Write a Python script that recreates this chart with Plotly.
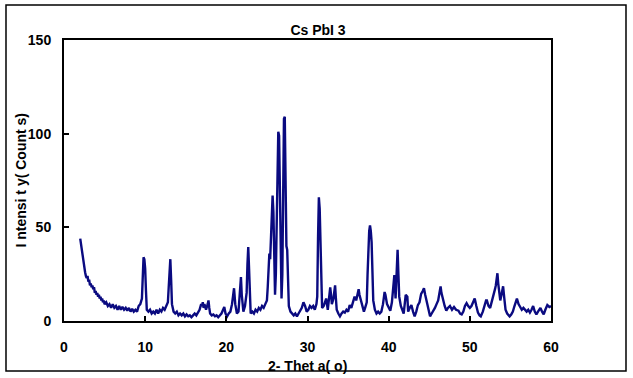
import plotly.graph_objects as go

two_theta = [
    2.0, 2.1, 2.2, 2.3, 2.4, 2.5, 2.6, 2.7, 2.8, 2.9, 3.0, 3.1, 3.2, 3.3, 3.4, 3.5, 3.6, 3.7, 3.8, 3.9,
    4.0, 4.1, 4.2, 4.3, 4.4, 4.5, 4.6, 4.7, 4.8, 4.9, 5.0, 5.2, 5.4, 5.6, 5.8, 6.0, 6.2, 6.4, 6.6, 6.8,
    7.0, 7.2, 7.4, 7.6, 7.8, 8.0, 8.2, 8.4, 8.6, 8.8, 9.0, 9.2, 9.4, 9.6, 9.7, 9.8, 9.9, 10.0, 10.1, 10.2,
    10.4, 10.6, 10.8, 11.0, 11.2, 11.4, 11.6, 11.8, 12.0, 12.2, 12.4, 12.6, 12.8, 12.9, 13.0, 13.1, 13.2, 13.3, 13.5, 13.7,
    13.9, 14.1, 14.3, 14.5, 14.7, 14.9, 15.1, 15.3, 15.5, 15.7, 15.9, 16.1, 16.3, 16.5, 16.7, 16.9, 17.0, 17.1, 17.2, 17.3,
    17.5, 17.7, 17.8, 17.9, 18.0, 18.2, 18.4, 18.6, 18.8, 19.0, 19.2, 19.4, 19.6, 19.75, 19.9, 20.1, 20.3, 20.5, 20.7, 20.85,
    20.95, 21.1, 21.3, 21.5, 21.6, 21.7, 21.8, 21.9, 22.0, 22.1, 22.3, 22.5, 22.6, 22.7, 22.8, 22.9, 23.0, 23.2, 23.4, 23.6,
    23.8, 24.0, 24.2, 24.4, 24.6, 24.8, 25.0, 25.1, 25.2, 25.3, 25.4, 25.5, 25.6, 25.7, 25.8, 25.9, 26.0, 26.1, 26.2, 26.3,
    26.4, 26.5, 26.6, 26.7, 26.8, 26.9, 27.0, 27.1, 27.2, 27.3, 27.4, 27.5, 27.6, 27.7, 27.9, 28.1, 28.3, 28.5, 28.7, 28.9,
    29.1, 29.3, 29.5, 29.7, 29.9, 30.1, 30.3, 30.5, 30.7, 30.9, 31.1, 31.2, 31.3, 31.4, 31.5, 31.6, 31.7, 31.8, 32.0, 32.2,
    32.3, 32.5, 32.7, 32.8, 32.9, 33.0, 33.2, 33.3, 33.4, 33.5, 33.6, 33.8, 34.0, 34.2, 34.4, 34.6, 34.8, 35.0, 35.2, 35.4,
    35.6, 35.8, 36.0, 36.2, 36.3, 36.4, 36.6, 36.8, 36.95, 37.1, 37.3, 37.4, 37.5, 37.6, 37.7, 37.8, 37.9, 38.0, 38.1, 38.3,
    38.5, 38.7, 38.9, 39.1, 39.3, 39.5, 39.6, 39.8, 40.0, 40.2, 40.4, 40.6, 40.7, 40.85, 41.0, 41.1, 41.2, 41.3, 41.5, 41.7,
    41.85, 42.0, 42.1, 42.3, 42.4, 42.6, 42.8, 43.0, 43.2, 43.4, 43.6, 43.8, 44.0, 44.2, 44.35, 44.5, 44.6, 44.8, 45.0, 45.1,
    45.3, 45.5, 45.7, 45.9, 46.1, 46.3, 46.4, 46.5, 46.7, 46.9, 47.1, 47.3, 47.55, 47.8, 48.05, 48.3, 48.6, 48.8, 49.0, 49.2,
    49.4, 49.6, 49.8, 50.0, 50.2, 50.4, 50.6, 50.8, 51.0, 51.2, 51.35, 51.6, 51.8, 52.0, 52.1, 52.3, 52.5, 52.7, 52.9, 53.1,
    53.2, 53.3, 53.4, 53.5, 53.6, 53.75, 53.9, 54.1, 54.25, 54.4, 54.6, 54.9, 55.1, 55.3, 55.5, 55.8, 56.0, 56.2, 56.4, 56.6,
    56.8, 57.0, 57.2, 57.4, 57.6, 57.8, 58.0, 58.2, 58.4, 58.7, 58.9, 59.1, 59.3, 59.55, 59.8, 60.0,
]

intensity = [
    44, 41, 38, 35, 30, 27, 26, 24, 23, 24, 21, 22, 19, 20, 18, 19, 17, 18, 15, 16,
    14, 15, 13, 14, 12, 13, 11, 12, 10, 11, 9, 10, 8, 9, 7, 9, 7, 8, 6, 8,
    6, 7.5, 6, 7, 5.5, 7, 5, 6.5, 5, 6, 5, 8, 9, 12, 30, 34, 33, 28, 16, 6,
    5, 6, 4, 5, 4, 6, 4, 6, 5, 7, 6, 8, 10, 18, 30, 33, 22, 9, 5, 4,
    5, 3, 4, 3, 4, 2.5, 3.5, 2.5, 3, 2, 3, 4, 3, 5, 6, 9, 8, 10, 7, 9,
    6, 9, 11, 7, 4, 3, 3.5, 2.5, 3, 2, 3, 4, 6, 7.5, 4, 2.5, 4, 5, 9, 15,
    17.5, 9, 4, 5, 10, 18, 23.5, 14, 7, 5, 8, 15, 30, 39.5, 28, 10, 4, 5, 4, 6,
    5, 7, 6, 8, 7, 9, 11, 18, 27, 36, 33, 45, 60, 67, 58, 30, 14, 25, 60, 95,
    101, 99, 70, 35, 12, 25, 75, 108, 109, 60, 40, 38, 20, 8, 5, 4, 3, 4, 2.5, 4,
    6, 7, 10, 8, 5, 6, 8, 7, 8, 6, 9, 13, 45, 66, 60, 39, 12, 7, 8, 11,
    12, 6, 14, 18, 14, 9, 12, 18, 19, 12, 6, 4, 2.5, 4, 5, 4.5, 6, 5, 8.5, 7,
    10, 13, 11, 15, 17, 14, 11, 7, 5, 7, 10, 25, 40, 48, 51, 48, 42, 25, 11, 6,
    4, 5, 4, 5, 9, 15.5, 14, 9, 7, 5.5, 10, 22, 24.5, 12, 30, 38, 25, 13, 8, 5,
    4, 10, 14, 13, 5, 7, 8.5, 5, 2.5, 5, 8.5, 10, 14.5, 16, 17.5, 14, 12, 7, 3, 2.5,
    4, 6, 7, 9, 11, 16, 18.5, 15, 11, 8, 5.5, 7, 8, 6, 7.5, 6, 5.5, 4, 3.5, 5,
    8, 9.5, 8, 7, 8, 10, 12, 8, 4.5, 3, 2.5, 5, 8, 11, 11, 8, 7, 10, 13, 17,
    19, 23, 25.5, 20, 16, 11, 14, 18.5, 12, 6, 4, 2.5, 3.5, 5, 8, 12, 9, 7, 6, 7,
    6, 5, 6, 4.5, 6, 8, 5, 3.5, 5, 7, 5, 3.5, 6, 8.5, 7.5, 8,
]

x_ticks = [0, 10, 20, 30, 40, 50, 60]
y_ticks = [0, 50, 100, 150]

title_text = "Cs PbI 3"
x_title = "2- Thet a( o)"
y_title = "I ntensi t y( Count s)"

FONT = "Liberation Sans, Arial, sans-serif"
TXT = dict(family=FONT, size=14, color="black", weight="bold")

fig = go.Figure()
fig.add_trace(go.Scatter(
    x=two_theta, y=intensity, mode="lines",
    line=dict(color="#0a0a80", width=2.4),
    showlegend=False, hoverinfo="x+y",
))

axis_common = dict(
    showline=True, linecolor="black", linewidth=2, mirror=True,
    ticks="inside", ticklen=5, tickwidth=1.5, tickcolor="black",
    showgrid=False, zeroline=False, automargin=False,
    tickfont=TXT,
)

fig.update_xaxes(
    range=[0, 60], tickmode="array", tickvals=x_ticks,
    ticktext=[str(v) for v in x_ticks], ticklabelstandoff=12,
    **axis_common,
)
fig.update_yaxes(
    range=[0, 150], tickmode="array", tickvals=y_ticks,
    ticktext=[str(v) for v in y_ticks], ticklabelstandoff=8,
    **axis_common,
)

fig.update_layout(
    width=633, height=378,
    margin=dict(l=64, r=82, t=40, b=57),
    paper_bgcolor="white", plot_bgcolor="white",
    title=dict(text=title_text, x=0.5024, xref="container", y=0.9206, yref="container",
               xanchor="center", yanchor="middle", font=TXT),
    annotations=[
        dict(text=x_title, xref="paper", yref="paper", x=0.5, y=-0.160,
             xanchor="center", yanchor="middle", showarrow=False, font=TXT),
        dict(text=y_title, xref="paper", yref="paper", x=-0.0903, y=0.5,
             xanchor="center", yanchor="middle", textangle=-90, showarrow=False, font=TXT),
    ],
    shapes=[dict(type="rect", xref="paper", yref="paper",
                 x0=-0.1191, x1=1.1540, y0=-0.178, y1=1.1246,
                 line=dict(color="black", width=1.5), fillcolor="rgba(0,0,0,0)",
                 layer="below")],
)

fig.write_html("out.html", config={"displayModeBar": False},
               post_script="document.body.style.margin='0';")
